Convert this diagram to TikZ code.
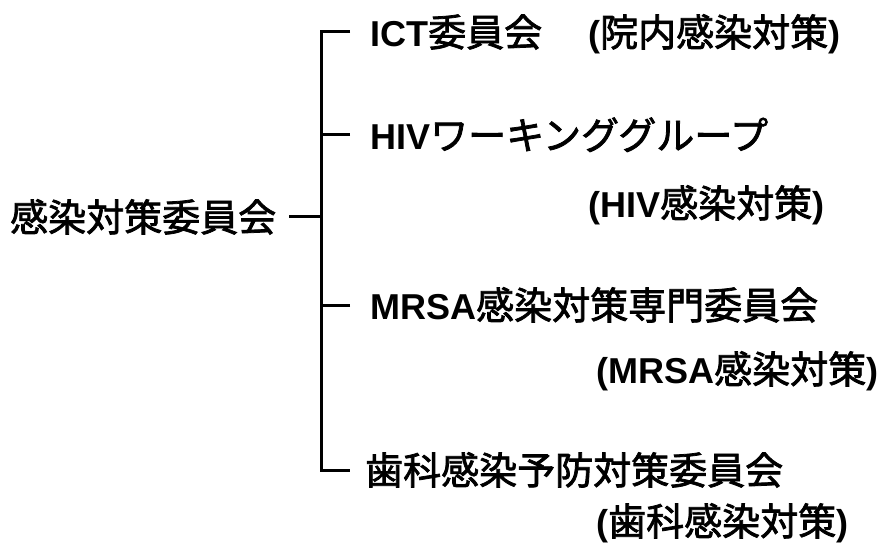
\documentclass[tikz,border=0pt]{standalone}
\usepackage{fontspec}
\setmainfont{Liberation Sans}
\newfontfamily\latf{Liberation Sans}
\newfontfamily\jp[FakeBold=2]{Noto Sans CJK JP}
\newcommand\lb[1]{{\latf\fontsize{36pt}{40pt}\selectfont\bfseries #1}}
\begin{document}
\begin{tikzpicture}[x=1pt,y=-1pt,
  lbl/.style={anchor=west,inner sep=0pt,text height=28.8pt,text depth=0pt,
    font=\jp\fontsize{38pt}{40pt}\selectfont},
  conn/.style={line width=3pt,line cap=butt}]
\useasboundingbox (0,0) rectangle (893,545);
\node[lbl] (root) at (10,217) {感染対策委員会};
\node[lbl] (c1) at (370,32) {\lb{ICT}委員会};
\node[lbl] (c1s) at (588,32) {\lb{(}院内感染対策\lb{)}};
\node[lbl] (c2) at (370,135) {\lb{HIV}ワーキンググループ};
\node[lbl] (c2s) at (588,203) {\lb{(HIV}感染対策\lb{)}};
\node[lbl] (c3) at (370,305) {\lb{MRSA}感染対策専門委員会};
\node[lbl] (c3s) at (596,369) {\lb{(MRSA}感染対策\lb{)}};
\node[lbl] (c4) at (365,470) {歯科感染予防対策委員会};
\node[lbl] (c4s) at (596,521) {\lb{(}歯科感染対策\lb{)}};
\coordinate (sp) at (321,0);
\draw[conn] ([xshift=-20pt]c1.west) -- (c1.west -| sp) -- (c4.west -| sp) -- ([xshift=-15pt]c4.west);
\draw[conn] ([xshift=-20pt]c2.west) -- (c2.west -| sp);
\draw[conn] ([xshift=-20pt]c3.west) -- (c3.west -| sp);
\draw[conn] ([xshift=13pt]root.east) -- (root.east -| sp);
\end{tikzpicture}
\end{document}
